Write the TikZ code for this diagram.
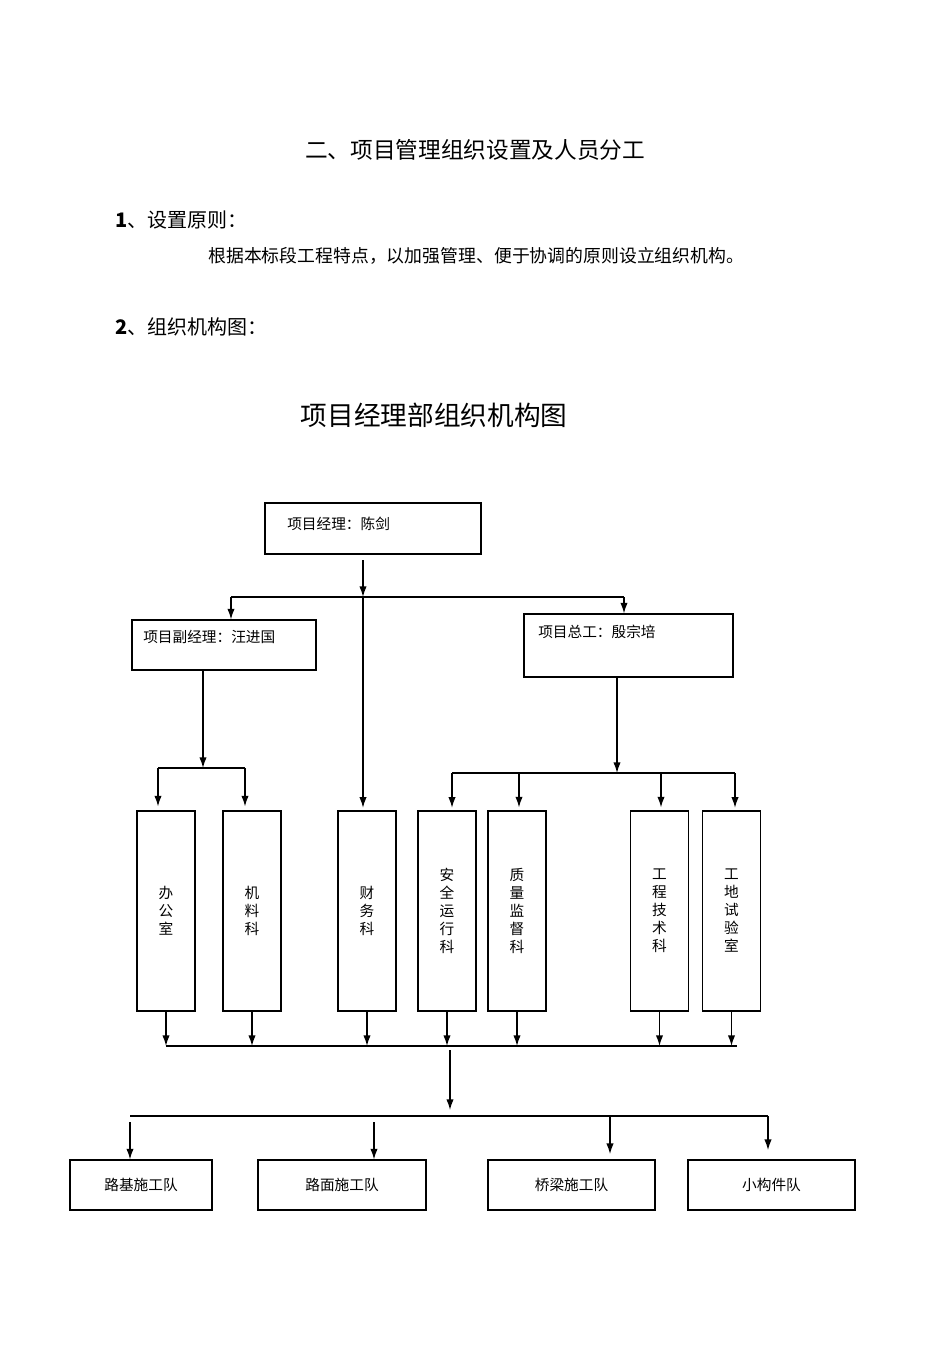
\documentclass[tikz,border=0pt]{standalone}
\usepackage{fontspec}
\setmainfont{Noto Sans CJK SC}
\usetikzlibrary{arrows.meta}

\begin{document}
\begin{tikzpicture}[x=0.75pt,y=-0.75pt,
  box/.style={draw,line width=0.8pt,inner sep=0pt},
  heavybox/.style={box,line width=1.3pt},
  vbox/.style={box,minimum width=43.5pt,minimum height=150pt,align=center,
    font=\fontsize{11}{13.5}\selectfont},
  team/.style={box,minimum height=37.5pt,font=\fontsize{11}{13}\selectfont},
  txt/.style={anchor=west,inner sep=0pt,font=\fontsize{11}{13}\selectfont},
  arr/.style={line width=1pt,-{Latex[length=8pt,width=5.5pt]}},
  bus/.style={line width=1pt}]
\useasboundingbox (0,0) rectangle (950,1345);

\node (title) at (475,150) {\fontsize{17}{20}\selectfont 二、项目管理组织设置及人员分工};
\node (item1) [anchor=west,inner sep=0pt] at (115,220)
  {\fontsize{15}{18}\selectfont\textbf{1}、设置原则：};
\node (body) [anchor=west,inner sep=0pt] at (208,256)
  {\fontsize{13.4}{16}\selectfont 根据本标段工程特点，以加强管理、便于协调的原则设立组织机构。};
\node (item2) [anchor=west,inner sep=0pt] at (115,327)
  {\fontsize{15}{18}\selectfont\textbf{2}、组织机构图：};
\node (charttitle) at (434,415) {\fontsize{20}{24}\selectfont 项目经理部组织机构图};

% leaders
\node (pm) [box,minimum width=162pt,minimum height=38.25pt] at (373,528.5) {};
\node (pmtext) [txt] at (287,524) {项目经理：陈剑};
\node (vice) [box,minimum width=138pt,minimum height=37.5pt] at (224,645) {};
\node (vicetext) [txt] at (143,637) {项目副经理：汪进国};
\node (chief) [box,minimum width=156.75pt,minimum height=47.25pt] at (628.5,645.5) {};
\node (chieftext) [txt] at (538,632) {项目总工：殷宗培};

% departments
\node (office) [vbox] at (166,911) {办\\公\\室};
\node (material) [vbox] at (252,911) {机\\料\\科};
\node (finance) [vbox] at (367,911) {财\\务\\科};
\node (safety) [vbox] at (447,911) {安\\全\\运\\行\\科};
\node (quality) [vbox,heavybox] at (517,911) {质\\量\\监\\督\\科};
\node (tech) [vbox,heavybox] at (659.5,911) {工\\程\\技\\术\\科};
\node (lab) [vbox] at (731.5,911) {工\\地\\试\\验\\室};

% teams
\node (roadbed) [team,minimum width=106.5pt] at (141,1185) {路基施工队};
\node (pavement) [team,minimum width=126pt] at (342,1185) {路面施工队};
\node (bridge) [team,minimum width=125.25pt] at (571.5,1185) {桥梁施工队};
\node (small) [team,minimum width=125.25pt] at (771.5,1185) {小构件队};

% buses
\coordinate (pmout) at (363,560);
\coordinate (b1m) at (363,597);
\coordinate (b1l) at (231,597);
\coordinate (b1r) at (624,597);
\coordinate (b2m) at (203,768);
\coordinate (b2l) at (158,768);
\coordinate (b2r) at (245,768);
\coordinate (b3m) at (617,773);
\coordinate (b3l) at (452,773);
\coordinate (b3a) at (519,773);
\coordinate (b3b) at (661,773);
\coordinate (b3r) at (735,773);
\coordinate (b4l) at (166,1046);
\coordinate (b4r) at (737,1046);
\coordinate (b4m) at (450,1050);
\coordinate (b5m) at (450,1110);
\coordinate (b5l) at (130,1116);
\coordinate (b5r) at (768,1116);

\draw [arr] (pmout) -- (b1m);
\draw [bus] (b1l) -- (b1r);
\draw [arr] (b1l) -- (b1l |- vice.north);
\draw [arr] (b1r) -- (b1r |- chief.north);
\draw [arr] (b1m) -- ([yshift=2pt]b1m |- finance.north);

\draw [arr] (b2m |- vice.south) -- (b2m);
\draw [bus] (b2l) -- (b2r);
\draw [arr] (b2l) -- ([yshift=3pt]b2l |- office.north);
\draw [arr] (b2r) -- ([yshift=3pt]b2r |- material.north);

\draw [arr] (b3m |- chief.south) -- (b3m);
\draw [bus] (b3l) -- (b3r);
\foreach \c/\d in {b3l/safety,b3a/quality,b3b/tech,b3r/lab}
  \draw [arr] (\c) -- ([yshift=2pt]\c |- \d.north);

\foreach \d in {office,material,finance,safety,quality,tech,lab}
  \draw [arr] (\d.south) -- (\d.south |- b4l);
\draw [bus] (b4l) -- (b4r);
\draw [arr] (b4m) -- (b5m);

\draw [bus] (b5l) -- (b5r);
\draw [arr] (b5l |- 0,1122) -- (b5l |- roadbed.north);
\draw [arr] (374,1122) -- (374,1122 |- pavement.north);
\draw [arr] (610,1116) -- ([yshift=4pt]610,1116 |- bridge.north);
\draw [arr] (b5r) -- ([yshift=7pt]b5r |- small.north);
\end{tikzpicture}
\end{document}
